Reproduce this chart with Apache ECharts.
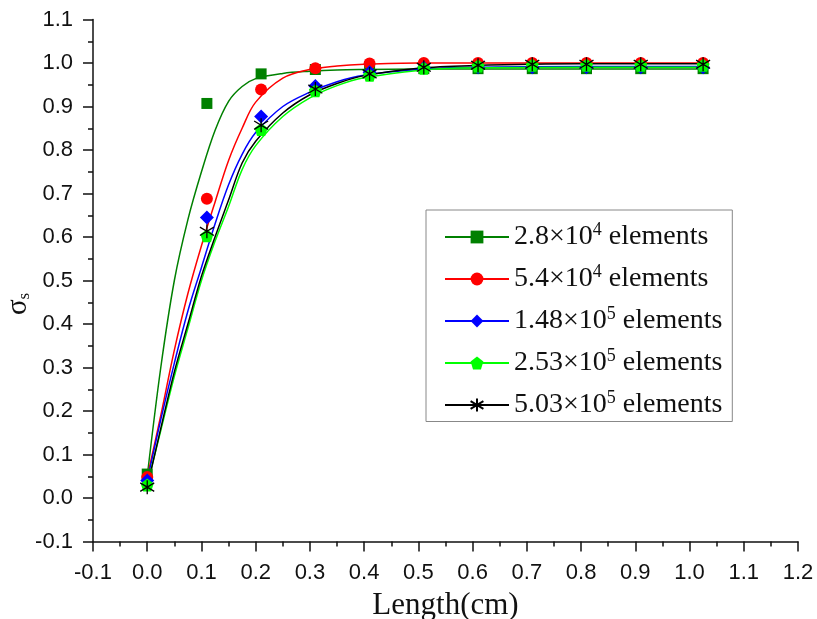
<!DOCTYPE html>
<html>
<head>
<meta charset="utf-8">
<script src="https://cdn.jsdelivr.net/npm/echarts@6/dist/echarts.min.js"></script>
<style>html,body{margin:0;padding:0;background:#fff;}#c{width:817px;height:619px;}</style>
</head>
<body>
<div id="c"></div>
<script>
// measured x positions of the data points (cm)
var pointX = [0, 0.11, 0.21, 0.31, 0.41, 0.51, 0.61, 0.71, 0.81, 0.91, 1.025];
// data points per mesh
var pts28e4  = [0.055, 0.907, 0.975, 0.985, 0.986, 0.987, 0.987, 0.987, 0.987, 0.987, 0.987];
var pts54e4  = [0.048, 0.688, 0.939, 0.988, 0.999, 1.000, 1.000, 1.000, 1.000, 1.000, 1.000];
var pts148e5 = [0.040, 0.645, 0.877, 0.947, 0.979, 0.989, 0.990, 0.990, 0.990, 0.990, 0.990];
var pts253e5 = [0.030, 0.603, 0.847, 0.936, 0.972, 0.988, 0.993, 0.995, 0.995, 0.995, 0.995];
var pts503e5 = [0.025, 0.613, 0.857, 0.940, 0.975, 0.990, 0.995, 0.997, 0.997, 0.997, 0.997];
// fitted curves
var curveX   = [0, 0.025, 0.05, 0.075, 0.1, 0.125, 0.15, 0.175, 0.2, 0.25, 0.3, 0.35, 0.4, 0.5, 0.6, 0.8, 1.025];
var fit28e4  = [0.050, 0.300, 0.500, 0.640, 0.750, 0.845, 0.912, 0.946, 0.964, 0.976, 0.981, 0.984, 0.985, 0.986, 0.986, 0.986, 0.986];
var fit54e4  = [0.048, 0.190, 0.340, 0.470, 0.580, 0.680, 0.776, 0.850, 0.910, 0.965, 0.985, 0.993, 0.997, 1.000, 1.000, 1.000, 1.000];
var fit148e5 = [0.040, 0.180, 0.310, 0.430, 0.530, 0.630, 0.720, 0.790, 0.840, 0.900, 0.933, 0.957, 0.972, 0.985, 0.990, 0.992, 0.992];
var fit253e5 = [0.030, 0.155, 0.280, 0.390, 0.500, 0.590, 0.670, 0.755, 0.810, 0.877, 0.920, 0.948, 0.966, 0.983, 0.989, 0.990, 0.990];
var fit503e5 = [0.025, 0.160, 0.290, 0.400, 0.510, 0.600, 0.685, 0.770, 0.820, 0.885, 0.927, 0.953, 0.971, 0.988, 0.994, 0.998, 0.998];
var seriesNames = ['2.8×10{sup|4} elements', '5.4×10{sup|4} elements', '1.48×10{sup|5} elements', '2.53×10{sup|5} elements', '5.03×10{sup|5} elements'];
var xTicks = {min: -0.1, max: 1.2, interval: 0.1};
var yTicks = {min: -0.1, max: 1.1, interval: 0.1};

var colors = ['#008000', '#ff0000', '#0000ff', '#00ff00', '#000000'];
var symbols = ['rect', 'circle', 'diamond',
  'path://M0,-100L95.1,-30.9L58.8,80.9L-58.8,80.9L-95.1,-30.9Z',
  'path://M0,-100L0,100M-80,-60L80,60M-80,60L80,-60'];
var sizes = [11, 12, 14, 13, 14];
var ptsAll = [pts28e4, pts54e4, pts148e5, pts253e5, pts503e5];
var fitAll = [fit28e4, fit54e4, fit148e5, fit253e5, fit503e5];

function zip(xs, ys) { return xs.map(function (x, i) { return [x, ys[i]]; }); }
function itemStyleFor(i) {
  if (i === 4) return {color: 'rgba(0,0,0,0)', borderColor: '#000', borderWidth: 1.3, opacity: 1};
  return {color: colors[i], opacity: 1};
}

var series = [];
for (var i = 0; i < 5; i++) {
  series.push({
    name: seriesNames[i], type: 'line', data: zip(curveX, fitAll[i]),
    smooth: 0.35, showSymbol: false, symbol: symbols[i], symbolSize: sizes[i],
    lineStyle: {color: colors[i], width: 1.5}, itemStyle: itemStyleFor(i),
    z: 2, silent: true, animation: false
  });
}
for (var j = 0; j < 5; j++) {
  series.push({
    name: seriesNames[j], type: 'scatter', data: zip(pointX, ptsAll[j]),
    symbol: symbols[j], symbolSize: sizes[j], itemStyle: itemStyleFor(j),
    z: 3, animation: false
  });
}

var chart = echarts.init(document.getElementById('c'));
chart.setOption({
  backgroundColor: '#fff',
  animation: false,
  grid: {left: 93, right: 19, top: 19.5, bottom: 77.5, containLabel: false, outerBoundsMode: 'none'},
  xAxis: {
    type: 'value', min: xTicks.min, max: xTicks.max, interval: xTicks.interval,
    name: 'Length(cm)', nameLocation: 'middle', nameGap: 49,
    nameTextStyle: {fontFamily: 'Liberation Serif', fontSize: 31, color: '#111'},
    axisLine: {show: true, onZero: false, lineStyle: {color: '#111', width: 1.5}},
    axisTick: {show: true, inside: false, length: 10, lineStyle: {color: '#111', width: 1.5}},
    minorTick: {show: true, splitNumber: 2, length: 5, lineStyle: {color: '#111', width: 1.5}},
    splitLine: {show: false},
    axisLabel: {margin: 20, fontFamily: 'Liberation Sans', fontSize: 22, color: '#111',
      formatter: function (v) { return v.toFixed(1); }}
  },
  yAxis: {
    type: 'value', min: yTicks.min, max: yTicks.max, interval: yTicks.interval,
    name: 'σ{sub|s}', nameLocation: 'middle', nameGap: 60, nameMoveOverlap: false,
    nameTextStyle: {fontFamily: 'Liberation Serif', fontSize: 29, color: '#111', padding: [0, 47, 0, 0],
      rich: {sub: {fontFamily: 'Liberation Serif', fontSize: 17, color: '#111', padding: [12, 0, 0, 0]}}},
    axisLine: {show: true, onZero: false, lineStyle: {color: '#111', width: 1.5}},
    axisTick: {show: true, inside: false, length: 10, lineStyle: {color: '#111', width: 1.5}},
    minorTick: {show: true, splitNumber: 2, length: 5, lineStyle: {color: '#111', width: 1.5}},
    splitLine: {show: false},
    axisLabel: {margin: 20, fontFamily: 'Liberation Sans', fontSize: 22, color: '#111',
      formatter: function (v) { return v.toFixed(1); }}
  },
  legend: {
    data: seriesNames, orient: 'vertical', left: 426, top: 210,
    padding: [11, 10, 1, 18], itemGap: 10.5, itemWidth: 64, itemHeight: 16,
    borderColor: '#888', borderWidth: 1, backgroundColor: '#fff',
    textStyle: {fontFamily: 'Liberation Serif', fontSize: 28, color: '#111', lineHeight: 31,
      rich: {sup: {fontFamily: 'Liberation Serif', fontSize: 18, color: '#111', padding: [0, 0, 14, 0]}}},
    selectedMode: false
  },
  series: series
});
</script>
</body>
</html>
